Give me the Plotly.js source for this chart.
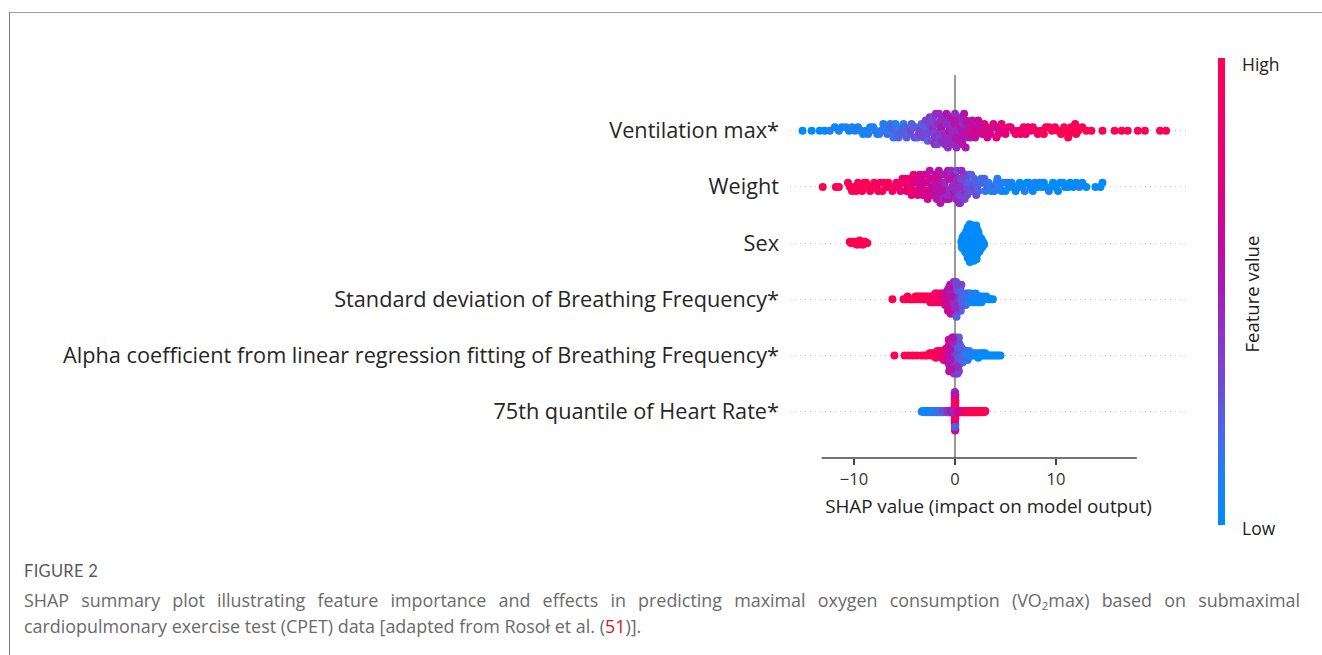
<!DOCTYPE html>
<html><head><meta charset="utf-8">
<script src="https://cdn.plot.ly/plotly-3.0.1.min.js"></script>
<style>
html,body{margin:0;padding:0;background:#fff;}
#wrap{position:relative;width:1322px;height:655px;overflow:hidden;background:#fff;}
#chart{position:absolute;left:0;top:0;width:1322px;height:655px;}
#frame{position:absolute;left:9px;top:12px;width:1400px;height:700px;border-top:1px solid #a0a0a0;border-left:1px solid #7a7a7a;pointer-events:none;}
.cap{position:absolute;left:24px;width:1276px;font-family:'Open Sans',Lato,sans-serif;color:#6a6a6a;}
.fig{top:561px;font-size:16.5px;line-height:20px;letter-spacing:0.3px;color:#5a5a5a;font-family:Lato,'Open Sans',sans-serif;}
.l1{top:588px;font-size:17.9px;line-height:24px;text-align:justify;text-align-last:justify;}
.l2{top:614px;font-size:17.9px;line-height:24px;white-space:nowrap;}
.ref{color:#d0191e;}
sub{font-size:11.5px;vertical-align:-3px;line-height:0;}
</style></head>
<body><div id="wrap">
<div id="chart"></div>
<div id="frame"></div>
<div class="cap fig">FIGURE 2</div>
<div class="cap l1">SHAP summary plot illustrating feature importance and effects in predicting maximal oxygen consumption (VO<sub>2</sub>max) based on submaximal</div>
<div class="cap l2">cardiopulmonary exercise test (CPET) data [adapted from Rosoł et al. (<span class="ref">51</span>)].</div>
</div>
<script>
// Feature names (top to bottom)
const features = ['Ventilation max*','Weight','Sex','Standard deviation of Breathing Frequency*','Alpha coefficient from linear regression fitting of Breathing Frequency*','75th quantile of Heart Rate*'];
const rowPos = [6,5,4,3,2,1];
const xTicks = [-10,0,10];

// SHAP values and feature values (0 = low ... 9 = high) per feature
const ventShap = [-15.1,-14.2,-13.4,-12.9,-12.4,-11.9,-11.5,-11.2,-10.8,-10.5,
-10.2,-9.9,-9.6,-9.3,-9.1,-8.8,-8.6,-8.4,-8.1,-7.9,
-7.7,-7.5,-7.3,-7.1,-6.9,-6.7,-6.6,-6.4,-6.3,-6.1,
-6.0,-5.9,-5.7,-5.6,-5.4,-5.3,-5.1,-5.0,-4.8,-4.7,
-4.6,-4.4,-4.3,-4.1,-4.0,-3.9,-3.7,-3.6,-3.5,-3.3,
-3.2,-3.1,-3.0,-2.9,-2.8,-2.7,-2.6,-2.5,-2.4,-2.35,
-2.3,-2.2,-2.15,-2.1,-2.0,-1.95,-1.9,-1.8,-1.75,-1.7,
-1.6,-1.55,-1.5,-1.4,-1.35,-1.3,-1.2,-1.1,-1.05,-1.0,
-0.9,-0.85,-0.8,-0.7,-0.65,-0.6,-0.5,-0.45,-0.4,-0.3,
-0.25,-0.2,-0.1,-0.05,0.0,0.1,0.15,0.2,0.3,0.35,
0.4,0.5,0.55,0.6,0.7,0.75,0.8,0.9,1.0,1.05,
1.1,1.2,1.3,1.4,1.5,1.6,1.7,1.9,2.0,2.1,
2.3,2.4,2.5,2.7,2.8,2.9,3.1,3.2,3.4,3.5,
3.7,3.8,4.0,4.1,4.3,4.5,4.6,4.8,5.0,5.3,
5.5,5.8,6.0,6.3,6.5,6.8,7.0,7.2,7.5,7.7,
8.0,8.2,8.5,8.8,9.0,9.3,9.6,9.9,10.2,10.5,
10.8,11.0,11.3,11.6,11.9,12.2,12.6,13.0,13.5,14.6,
15.8,16.5,17.1,18.1,18.8,20.3,20.9,11.2,11.5,12.0];
const ventFeat = [0,0,0,0,1,0,1,0,1,0,
1,1,0,1,0,1,1,0,1,1,
1,1,1,1,1,2,1,1,2,1,
2,1,1,2,2,2,1,2,2,2,
2,3,2,2,3,2,2,3,3,2,
3,3,2,3,3,2,3,4,3,3,
3,4,3,3,4,3,4,4,3,4,
4,3,4,4,5,4,3,4,4,4,
4,5,4,4,4,5,4,4,5,4,
5,4,4,5,4,5,4,5,4,5,
4,5,5,4,5,5,4,5,5,5,
5,5,6,5,5,6,5,6,5,6,
6,5,6,6,6,7,6,6,7,6,
6,7,6,7,7,6,7,7,7,7,
7,7,8,7,8,8,7,8,8,8,
8,8,8,9,8,9,9,8,9,9,
9,9,9,9,9,9,9,9,9,9,
9,9,9,9,9,9,9,9,9,9];

const weightShap = [-13.1,-11.8,-11.5,-10.6,-10.4,-10.2,-10.0,-9.8,-9.6,-9.4,
-9.2,-9.0,-8.8,-8.6,-8.4,-8.2,-8.0,-7.8,-7.6,-7.4,
-7.2,-7.0,-6.8,-6.6,-6.4,-6.2,-6.0,-5.8,-5.6,-5.4,
-5.3,-5.2,-5.0,-4.9,-4.8,-4.7,-4.5,-4.4,-4.3,-4.2,
-4.1,-4.0,-3.9,-3.8,-3.7,-3.6,-3.5,-3.4,-3.3,-3.2,
-3.1,-3.0,-2.9,-2.85,-2.8,-2.7,-2.6,-2.5,-2.4,-2.3,
-2.2,-2.15,-2.1,-2.0,-1.9,-1.85,-1.8,-1.7,-1.6,-1.5,
-1.45,-1.4,-1.3,-1.2,-1.1,-1.05,-1.0,-0.9,-0.8,-0.7,
-0.65,-0.6,-0.5,-0.4,-0.35,-0.3,-0.2,-0.1,0.0,0.05,
0.1,0.15,0.2,0.3,0.4,0.45,0.5,0.6,0.7,0.75,
0.8,0.9,1.0,1.05,1.1,1.2,1.3,1.4,1.5,1.6,
1.7,1.8,1.9,2.0,2.1,2.2,2.3,2.5,2.6,2.8,
2.9,3.0,3.2,3.3,3.5,3.6,3.8,3.9,4.1,4.2,
4.4,4.6,4.8,5.0,5.2,5.4,5.6,5.8,6.0,6.2,
6.4,6.6,6.9,7.1,7.3,7.5,7.7,7.9,8.2,8.4,
8.6,8.8,9.0,9.3,9.5,9.7,10.0,10.2,10.4,10.7,
10.9,11.2,11.4,11.7,12.0,12.3,12.6,13.0,13.9,14.4,
14.6,-0.55,-1.55,-2.45,0.35,-0.75,-3.45,0.95,-1.25,0.65];
const weightFeat = [9,9,9,9,9,9,8,9,9,9,
9,8,9,9,8,9,9,8,9,8,
9,8,8,9,8,8,8,8,8,7,
8,7,8,7,8,7,7,8,7,7,
7,7,7,6,7,7,6,6,7,6,
6,6,7,6,6,6,6,5,6,5,
6,6,5,5,6,5,5,6,5,5,
5,5,5,4,5,5,4,5,4,5,
4,5,4,4,5,4,4,4,5,4,
4,4,3,4,4,3,4,3,4,3,
3,3,4,3,3,3,2,3,3,2,
2,3,2,2,3,2,2,2,1,2,
2,1,2,1,1,1,2,1,1,1,
1,1,1,0,1,0,1,0,0,1,
0,0,1,0,0,0,0,1,0,0,
0,0,0,1,0,0,0,0,0,0,
0,0,0,0,0,1,0,0,0,0,
0,5,5,6,4,4,6,3,5,4];

const sexShap = [0.62,0.67,0.70,0.74,0.76,0.79,0.81,0.83,0.86,0.88,
0.90,0.93,0.94,0.97,0.98,1.00,1.03,1.04,1.06,1.08,
1.09,1.11,1.13,1.14,1.16,1.17,1.18,1.20,1.22,1.23,
1.24,1.26,1.27,1.29,1.30,1.32,1.33,1.34,1.36,1.37,
1.38,1.40,1.41,1.43,1.44,1.45,1.47,1.48,1.49,1.51,
1.52,1.53,1.55,1.56,1.57,1.59,1.60,1.61,1.63,1.64,
1.65,1.67,1.68,1.69,1.71,1.72,1.73,1.75,1.76,1.77,
1.78,1.80,1.81,1.83,1.84,1.85,1.87,1.88,1.89,1.91,
1.92,1.93,1.95,1.96,1.97,1.99,2.00,2.01,2.03,2.04,
2.05,2.07,2.08,2.09,2.11,2.12,2.13,2.15,2.16,2.17,
2.18,2.20,2.22,2.23,2.24,2.26,2.27,2.29,2.30,2.32,
2.33,2.35,2.37,2.38,2.40,2.43,2.44,2.46,2.49,2.50,
2.52,2.56,2.58,2.62,2.64,2.69,2.72,2.76,2.82,2.88,
1.15,1.25,1.35,1.46,1.54,1.66,1.74,1.86,1.94,2.06,
1.28,1.39,1.47,1.58,1.67,1.79,1.86,1.98,2.07,2.19,
1.10,1.31,1.42,1.51,1.62,1.70,1.82,1.90,2.02,2.10,
-10.42,-10.31,-10.18,-10.06,-9.95,-9.86,-9.76,-9.67,-9.60,-9.52,
-9.45,-9.37,-9.30,-9.23,-9.15,-9.08,-9.01,-8.92,-8.81,-8.68];
const sexFeat = [0,0,0,0,0,0,0,0,0,0,
0,0,0,0,0,0,0,0,0,0,
0,0,0,0,0,0,0,0,0,0,
0,0,0,0,0,0,0,0,0,0,
0,0,0,0,0,0,0,0,0,0,
0,0,0,0,0,0,0,0,0,0,
0,0,0,0,0,0,0,0,0,0,
0,0,0,0,0,0,0,0,0,0,
0,0,0,0,0,0,0,0,0,0,
0,0,0,0,0,0,0,0,0,0,
0,0,0,0,0,0,0,0,0,0,
0,0,0,0,0,0,0,0,0,0,
0,0,0,0,0,0,0,0,0,0,
0,0,0,0,0,0,0,0,0,0,
0,0,0,0,0,0,0,0,0,0,
0,0,0,0,0,0,0,0,0,0,
9,9,9,9,9,9,9,9,9,9,
9,9,9,9,9,9,9,9,9,9];

const sdbfShap = [-6.2,-5.1,-4.9,-4.7,-4.55,-4.4,-4.2,-4.1,-3.9,-3.8,
-3.7,-3.6,-3.5,-3.4,-3.3,-3.2,-3.1,-3.0,-2.9,-2.8,
-2.7,-2.6,-2.5,-2.45,-2.4,-2.3,-2.25,-2.2,-2.1,-2.05,
-2.0,-1.95,-1.9,-1.85,-1.8,-1.75,-1.7,-1.65,-1.6,-1.55,
-1.5,-1.45,-1.4,-1.35,-1.3,-1.25,-1.2,-1.15,-1.1,-1.05,
-1.0,-0.97,-0.94,-0.9,-0.86,-0.83,-0.8,-0.76,-0.73,-0.7,
-0.68,-0.65,-0.62,-0.6,-0.57,-0.55,-0.52,-0.5,-0.48,-0.45,
-0.43,-0.41,-0.38,-0.36,-0.34,-0.31,-0.29,-0.27,-0.24,-0.22,
-0.2,-0.18,-0.15,-0.13,-0.11,-0.09,-0.06,-0.04,-0.02,0.0,
0.02,0.04,0.07,0.09,0.11,0.13,0.15,0.18,0.2,0.22,
0.24,0.26,0.29,0.31,0.33,0.36,0.38,0.4,0.43,0.45,
0.47,0.5,0.52,0.55,0.57,0.6,0.63,0.66,0.7,0.73,
0.76,0.8,0.84,0.88,0.92,0.96,1.0,1.05,1.1,1.15,
1.2,1.25,1.3,1.35,1.4,1.45,1.5,1.55,1.6,1.65,
1.7,1.75,1.8,1.86,1.92,1.98,2.04,2.1,2.16,2.22,
2.28,2.34,2.4,2.47,2.54,2.62,2.7,2.8,2.95,3.1,
3.25,3.4,3.55,3.75,-0.3,-0.1,0.1,0.3,-0.5,0.5,
-0.7,0.0,-0.2,0.2,-0.4,0.4,0.6,-0.6,-0.05,0.15];
const sdbfFeat = [9,9,9,9,9,9,9,9,9,9,
9,9,9,9,9,9,9,8,9,9,
9,8,9,9,8,9,8,9,8,9,
8,9,8,8,9,8,8,7,8,8,
8,7,8,8,7,8,7,7,8,7,
6,7,6,6,5,6,6,5,6,6,
5,6,5,6,5,5,6,5,5,6,
5,4,5,5,6,4,5,4,5,5,
4,5,4,4,5,3,4,4,5,3,
4,3,4,3,3,4,2,3,4,3,
3,2,3,3,2,3,2,3,2,3,
3,3,4,3,2,3,3,2,3,2,
3,2,2,3,2,2,1,2,2,1,
2,1,1,2,1,1,1,0,1,1,
1,0,1,1,0,1,0,1,0,0,
1,0,0,1,0,0,0,0,1,0,
0,0,0,0,5,4,3,3,5,2,
6,4,4,3,5,2,2,5,4,3];

const alphaShap = [-6.0,-5.0,-4.6,-4.2,-3.8,-3.3,-3.0,-2.8,-2.5,-2.4,
-2.3,-2.2,-2.1,-2.0,-1.9,-1.8,-1.75,-1.7,-1.6,-1.5,
-1.45,-1.4,-1.35,-1.3,-1.25,-1.2,-1.16,-1.12,-1.08,-1.04,
-1.0,-0.97,-0.94,-0.91,-0.88,-0.85,-0.82,-0.79,-0.76,-0.73,
-0.7,-0.68,-0.66,-0.64,-0.62,-0.6,-0.58,-0.56,-0.54,-0.52,
-0.5,-0.48,-0.46,-0.44,-0.42,-0.4,-0.38,-0.36,-0.34,-0.32,
-0.3,-0.28,-0.26,-0.24,-0.22,-0.2,-0.18,-0.16,-0.14,-0.12,
-0.1,-0.08,-0.06,-0.04,-0.02,0.0,0.02,0.04,0.06,0.08,
0.1,0.12,0.14,0.16,0.18,0.2,0.22,0.24,0.26,0.28,
0.3,0.32,0.34,0.36,0.38,0.4,0.42,0.44,0.46,0.48,
0.5,0.53,0.56,0.59,0.62,0.65,0.68,0.71,0.74,0.77,
0.8,0.84,0.88,0.92,0.96,1.0,1.05,1.1,1.15,1.2,
1.25,1.3,1.35,1.4,1.45,1.5,1.6,1.7,1.8,1.9,
2.0,2.1,2.2,2.3,2.4,2.5,2.6,2.7,2.8,2.9,
3.0,3.1,3.3,3.5,3.7,3.9,4.1,4.3,4.5,-0.55,
-0.45,-0.35,-0.25,-0.15,-0.05,0.05,0.15,0.25,0.35,0.45,
-0.41,-0.31,-0.21,-0.11,-0.01,0.09,0.19,0.29,0.39,-0.61,
-0.27,-0.17,-0.07,0.03,0.13,0.23,0.33,-0.37,-0.47,0.55];
const alphaFeat = [9,9,9,9,9,9,9,9,9,9,
9,9,8,9,9,8,9,8,9,8,
8,9,8,8,7,8,8,7,8,7,
8,7,7,8,7,6,7,7,6,7,
6,6,7,6,6,6,5,6,6,5,
5,6,5,5,5,5,5,6,5,4,
5,4,5,5,4,5,4,5,4,5,
4,5,4,4,5,4,3,4,4,3,
4,3,4,3,3,4,3,2,3,3,
3,2,3,3,2,3,2,2,3,2,
3,3,2,3,3,2,3,2,3,2,
2,3,2,2,1,2,2,1,2,1,
1,2,1,1,1,0,1,1,0,1,
0,1,0,0,1,0,0,0,1,0,
0,0,0,0,0,0,0,0,0,6,
5,5,4,4,4,3,3,3,2,3,
6,5,4,5,4,3,4,2,3,5,
5,4,4,3,3,4,2,5,5,2];

const hrShap = [-3.3,-3.22,-3.15,-3.1,-3.04,-2.98,-2.92,-2.86,-2.8,-2.75,
-2.7,-2.64,-2.58,-2.53,-2.48,-2.42,-2.37,-2.32,-2.26,-2.21,
-2.16,-2.1,-2.05,-2.0,-1.95,-1.9,-1.85,-1.8,-1.75,-1.7,
-1.65,-1.6,-1.55,-1.5,-1.45,-1.4,-1.35,-1.3,-1.25,-1.2,
-1.15,-1.1,-1.05,-1.0,-0.95,-0.9,-0.85,-0.8,-0.75,-0.7,
-0.66,-0.62,-0.58,-0.54,-0.5,-0.46,-0.42,-0.38,-0.35,-0.3,
0.0,0.02,-0.02,0.01,-0.01,0.03,-0.03,0.0,0.02,-0.02,
0.01,-0.01,0.0,0.03,-0.03,0.02,-0.02,0.01,-0.01,0.0,
0.02,-0.02,0.03,-0.03,0.01,-0.01,0.0,0.02,-0.02,0.01,
-0.01,0.0,0.03,-0.03,0.02,-0.02,0.01,-0.01,0.0,0.02,
-0.02,0.03,-0.03,0.01,-0.01,0.0,0.02,-0.02,0.01,-0.01,
0.0,0.03,-0.03,0.02,-0.02,0.01,-0.01,0.0,0.02,-0.02,
0.35,0.4,0.45,0.49,0.53,0.57,0.62,0.66,0.7,0.75,
0.8,0.84,0.88,0.93,0.97,1.02,1.06,1.1,1.15,1.2,
1.24,1.28,1.33,1.38,1.42,1.47,1.51,1.56,1.6,1.65,
1.7,1.74,1.78,1.83,1.88,1.92,1.97,2.02,2.06,2.1,
2.15,2.2,2.25,2.3,2.35,2.4,2.45,2.5,2.55,2.6,
2.65,2.7,2.75,2.8,2.85,2.9,2.95,3.0,-0.2,0.25];
const hrFeat = [0,0,1,0,0,1,0,0,1,0,
0,1,0,1,0,0,1,0,1,1,
0,1,1,0,1,1,2,1,1,2,
1,2,1,2,1,2,2,1,2,3,
2,2,3,2,3,2,3,3,2,4,
3,4,3,4,4,3,4,5,4,5,
5,9,7,1,8,1,6,1,9,7,
2,8,1,5,9,2,6,9,5,1,
9,2,6,8,1,9,5,7,1,8,
5,2,9,4,8,1,6,9,2,7,
8,1,6,9,2,5,8,1,7,4,
9,3,7,1,9,6,2,8,5,9,
5,6,6,7,6,7,7,6,7,8,
7,8,7,8,8,7,8,9,8,8,
9,8,8,9,8,9,9,8,9,9,
8,9,9,9,8,9,9,9,8,9,
9,9,9,8,9,9,9,9,9,9,
9,9,9,9,9,9,9,9,4,6];

const shapRows = [ventShap, weightShap, sexShap, sdbfShap, alphaShap, hrShap];
const featRows = [ventFeat, weightFeat, sexFeat, sdbfFeat, alphaFeat, hrFeat];

// SHAP red_blue colour map
const redBlue = [[0,'#008bfb'],[0.1,'#2180f4'],[0.2,'#4b66e6'],[0.3,'#6d4cd6'],[0.4,'#8a36c8'],
  [0.5,'#a31eb6'],[0.6,'#c20b9e'],[0.75,'#e6007a'],[1,'#ff0052']];

// beeswarm layout (same stacking rule as shap.summary_plot)
function swarm(vals, nbins){
  const n = vals.length;
  const mn = Math.min(...vals), mx = Math.max(...vals);
  const quant = vals.map(v => Math.round(nbins*(v-mn)/(mx-mn+1e-8)));
  const key = vals.map((_,i) => (i*61 + 17) % 113);
  const inds = vals.map((_,i)=>i).sort((a,b)=> (quant[a]-quant[b]) || (key[a]-key[b]) || (a-b));
  const ys = new Array(n).fill(0);
  let layer = 0, last = -1;
  for (const i of inds){
    if (quant[i] !== last) layer = 0;
    ys[i] = Math.ceil(layer/2) * ((layer%2)*2 - 1);
    layer++; last = quant[i];
  }
  const m = Math.max(...ys.map(y=>y+1));
  return ys.map(y => y*0.9*(0.4/m));
}

const traces = shapRows.map((xs, k) => {
  const off = swarm(xs, 50);
  return {
    type:'scatter', mode:'markers', x: xs, y: off.map(o => rowPos[k] + o),
    marker:{size:8, color: featRows[k].map(c=>c/9), colorscale: redBlue, cmin:0, cmax:1,
      line:{width:0}, showscale: k===0,
      colorbar:{thickness:7, lenmode:'pixels', len:467, x:1.0781, xanchor:'left', xpad:0,
        y:0.4347, yanchor:'middle', ypad:0, outlinewidth:0, showticklabels:false, ticks:''}},
    hoverinfo:'skip', showlegend:false
  };
});

const layout = {
  width:1322, height:655,
  margin:{l:790, r:135, t:75, b:197, pad:0},
  paper_bgcolor:'rgba(0,0,0,0)', plot_bgcolor:'rgba(0,0,0,0)',
  font:{family:'Open Sans, sans-serif', color:'#262626'},
  xaxis:{range:[-16.34,22.97], tickvals:xTicks, ticks:'outside', ticklen:6, tickwidth:1.3, tickcolor:'#444',
    showline:false, showgrid:false, zeroline:true, zerolinecolor:'#9a9a9a', zerolinewidth:2,
    tickfont:{family:'Open Sans, sans-serif', size:16.5, color:'#333'},
    title:{text:'SHAP value (impact on model output)', font:{family:'Open Sans, sans-serif', size:18.8, color:'#222'}, standoff:11}},
  yaxis:{range:[0.176,6.991], tickvals:rowPos, ticktext:features, ticks:'', showline:false,
    showgrid:true, gridcolor:'#c4c4c4', griddash:'1px,4px', gridwidth:1, zeroline:false,
    ticklabelstandoff:10,
    tickfont:{family:'Open Sans, sans-serif', size:21.7, color:'#262626'}},
  shapes:[{type:'line', xref:'x', yref:'paper', x0:-13.2, x1:18.0, y0:0, y1:0, line:{color:'#444', width:1.3}}],
  annotations:[
    {xref:'paper', yref:'paper', x:1.1335, y:1.0287, xanchor:'left', yanchor:'middle', showarrow:false, text:'High', font:{size:17.5, color:'#222'}},
    {xref:'paper', yref:'paper', x:1.1335, y:-0.1828, xanchor:'left', yanchor:'middle', showarrow:false, text:'Low', font:{size:17.5, color:'#222'}},
    {xref:'paper', yref:'paper', x:1.1637, y:0.4295, xanchor:'center', yanchor:'middle', showarrow:false, textangle:-90, text:'Feature value', font:{size:18.5, color:'#222'}}
  ],
  hovermode:false
};

Plotly.newPlot('chart', traces, layout, {staticPlot:true, displayModeBar:false});
</script>
</body></html>
